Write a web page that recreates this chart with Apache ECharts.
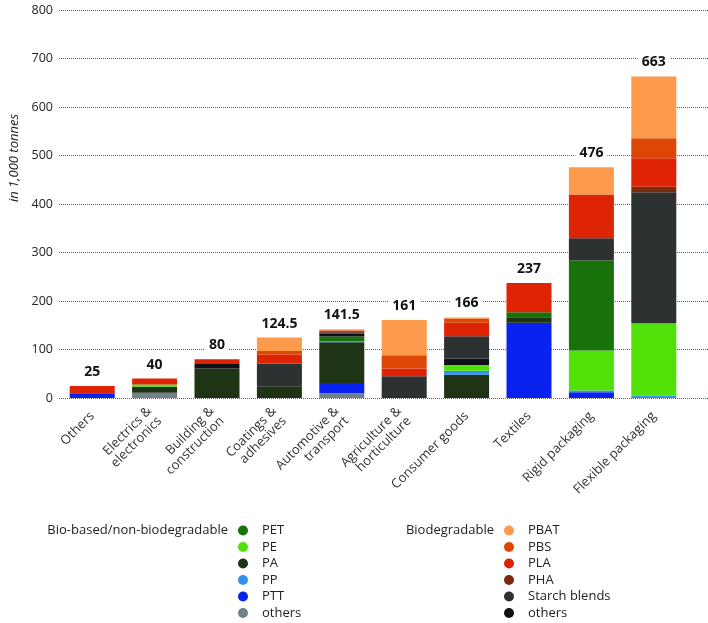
<!DOCTYPE html>
<html>
<head>
<meta charset="utf-8">
<script src="https://cdn.jsdelivr.net/npm/echarts@6/dist/echarts.min.js"></script>
<style>html,body{margin:0;padding:0;background:#fff}#c{width:708px;height:623px}</style>
</head>
<body>
<div id="c"></div>
<script>
const categories = ['Others', 'Electrics &\nelectronics', 'Building &\nconstruction', 'Coatings &\nadhesives', 'Automotive &\ntransport', 'Agriculture &\nhorticulture', 'Consumer goods', 'Textiles', 'Rigid packaging', 'Flexible packaging'];
const totals = [25, 40, 80, 124.5, 141.5, 161, 166, 237, 476, 663];
const yTicks = [0, 100, 200, 300, 400, 500, 600, 700, 800];

// Bio-based / non-biodegradable
const othersNB = [0, 11, 0, 0, 10, 0, 0, 0, 0, 0];
const PTT = [10, 0, 0, 0, 21, 0, 0, 155, 12, 0];
const PA = [0, 12, 61, 24, 84, 0, 48, 11.5, 0, 0];
const PP = [0, 0, 0, 0, 2, 0, 8, 0, 3.5, 5];
const PE = [0, 5, 0, 0, 0, 0, 12, 0, 82.5, 149];
const PET = [0, 0, 0, 0, 10, 0, 0, 10.5, 185.5, 0];
// Biodegradable
const othersB = [0, 0, 9, 0, 5.5, 0, 13.5, 0, 0, 0];
const Starch = [0, 0, 0, 47, 3, 45, 46, 0, 46, 270];
const PHA = [0, 0, 0, 0, 0, 0, 0, 0, 0, 11.5];
const PLA = [15, 12, 10, 18, 3.5, 16, 27.5, 60, 90, 59];
const PBS = [0, 0, 0, 8, 0, 27, 9, 0, 0, 41];
const PBAT = [0, 0, 0, 27.5, 2.5, 73, 2, 0, 56.5, 127.5];

const FONT = '"Open Sans", "Noto Sans", sans-serif';
const colors = {
  'PET': '#177209', 'PE': '#52e106', 'PA': '#1f3315', 'PP': '#3390f0', 'PTT': '#0a22f0', 'others_nb': '#6f8289',
  'PBAT': '#fd9a4b', 'PBS': '#dd4706', 'PLA': '#df2305', 'PHA': '#7b2a0b', 'Starch blends': '#2c3131', 'others_b': '#0e1216'
};
const stackOrder = [
  ['others_nb', othersNB], ['PTT', PTT], ['PA', PA], ['PP', PP], ['PE', PE], ['PET', PET],
  ['others_b', othersB], ['Starch blends', Starch], ['PHA', PHA], ['PLA', PLA], ['PBS', PBS], ['PBAT', PBAT]
];

const series = stackOrder.map(([name, data]) => ({
  name, type: 'bar', stack: 'total', barWidth: 45, data,
  itemStyle: { color: colors[name] }, emphasis: { disabled: true }
}));
series.push({
  name: 'totalLabel', type: 'bar', stack: 'total', barWidth: 45,
  data: totals.map(() => 0),
  itemStyle: { color: 'transparent' },
  label: {
    show: true, position: 'top', distance: 6,
    formatter: p => String(totals[p.dataIndex]),
    fontFamily: FONT, fontWeight: 'bold', fontSize: 14, color: '#111',
    backgroundColor: '#fff', padding: [1, 4]
  }
});

const legendCommon = {
  orient: 'vertical', icon: 'circle', itemWidth: 10, itemHeight: 10, itemGap: 3.5, padding: 0,
  formatter: n => n.startsWith('others') ? 'others' : n,
  textStyle: { fontFamily: FONT, fontSize: 13, color: '#222', padding: [0, 0, 0, 9] },
  selectedMode: false
};

const chart = echarts.init(document.getElementById('c'), null, { renderer: 'canvas' });
chart.setOption({
  animation: false,
  color: Object.values(colors),
  grid: [
    { left: 61, right: 23, top: 10, bottom: 225 },
    { left: 59, right: 0, top: 10, bottom: 225 }
  ],
  xAxis: [
    {
      type: 'category', data: categories, gridIndex: 0,
      axisLine: { show: false }, axisTick: { show: false },
      axisLabel: { rotate: 45, interval: 0, margin: 16, fontFamily: FONT, fontSize: 13, color: '#333', lineHeight: 14 }
    },
    { type: 'value', gridIndex: 1, show: false }
  ],
  yAxis: [
    {
      type: 'value', gridIndex: 0, min: yTicks[0], max: yTicks[yTicks.length - 1], interval: 100,
      axisLine: { show: false }, axisTick: { show: false }, splitLine: { show: false },
      axisLabel: { fontFamily: FONT, fontSize: 12.5, color: '#222', margin: 8 }
    },
    {
      type: 'value', gridIndex: 1, min: yTicks[0], max: yTicks[yTicks.length - 1], interval: 100,
      axisLine: { show: false }, axisTick: { show: false }, axisLabel: { show: false },
      splitLine: { show: true, lineStyle: { type: 'dotted', color: '#55636a', width: 1 } }
    }
  ],
  legend: [
    Object.assign({ left: 238, top: 524, data: ['PET', 'PE', 'PA', 'PP', 'PTT', 'others_nb'] }, legendCommon),
    Object.assign({ left: 504, top: 524, data: ['PBAT', 'PBS', 'PLA', 'PHA', 'Starch blends', 'others_b'] }, legendCommon)
  ],
  graphic: [
    { type: 'text', x: 14, y: 158, rotation: Math.PI / 2,
      style: { text: 'in 1,000 tonnes', font: 'italic 13px ' + FONT, fill: '#222', align: 'center', verticalAlign: 'middle' } },
    { type: 'text', x: 228, y: 530,
      style: { text: 'Bio-based/non-biodegradable', font: '13px ' + FONT, fill: '#222', align: 'right', verticalAlign: 'middle' } },
    { type: 'text', x: 494, y: 530,
      style: { text: 'Biodegradable', font: '13px ' + FONT, fill: '#222', align: 'right', verticalAlign: 'middle' } }
  ],
  series
});
</script>
</body>
</html>
